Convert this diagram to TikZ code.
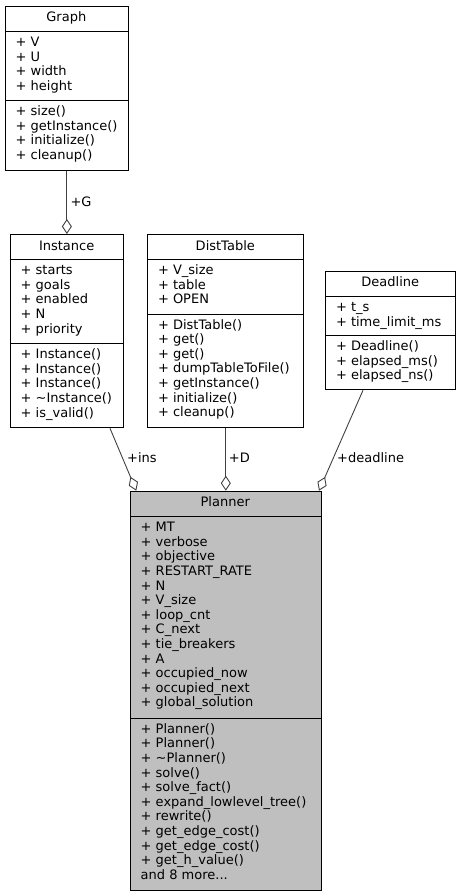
\documentclass[tikz,border=0pt]{standalone}
\usepackage{fontspec}
\setmainfont{DejaVu Sans}
\usetikzlibrary{arrows.meta,calc}
\definecolor{edgecol}{HTML}{404040}
\definecolor{focalfill}{HTML}{BFBFBF}
\newcommand\plannermoretext{and 8 more...}
\begin{document}
\begin{tikzpicture}[x=1pt,y=-1pt,
  classbox/.style={draw=black, line width=1pt, inner sep=0pt, anchor=north west},
  divline/.style={draw=black, line width=1pt},
  lbl/.style={font=\fontsize{13}{14.6}\selectfont, inner sep=0pt, anchor=base west},
  ttl/.style={font=\fontsize{13}{14.6}\selectfont, inner sep=0pt, anchor=base},
  agg/.style={draw=edgecol, line width=0.9pt, -{Diamond[open,length=15pt,width=10pt]}}]
\useasboundingbox (0,0) rectangle (463,896);

% Graph
\node[classbox, minimum width=122.7pt, minimum height=164.3pt] (graph) at (5,5.7) {};
\draw[divline] (5,31.7) -- (127.7,31.7);
\draw[divline] (5,100.7) -- (127.7,100.7);
\node[ttl] (graph-t) at (66.35,21.7) {Graph};
\foreach \s [count=\i] in {+ V,+ U,+ width,+ height}
  \node[lbl] (graph-a\i) at (15.5,{46.7+(\i-1)*14.6}) {\s};
\foreach \s [count=\i] in {+ size(),+ getInstance(),+ initialize(),+ cleanup()}
  \node[lbl] (graph-m\i) at (15.5,{115.7+(\i-1)*14.6}) {\s};

% Instance
\node[classbox, minimum width=113.3pt, minimum height=193.3pt] (instance) at (10,234) {};
\draw[divline] (10,259.7) -- (123.3,259.7);
\draw[divline] (10,343.7) -- (123.3,343.7);
\node[ttl] (instance-t) at (66.65,250) {Instance};
\foreach \s [count=\i] in {+ starts,+ goals,+ enabled,+ N,+ priority}
  \node[lbl] (instance-a\i) at (20.5,{274.7+(\i-1)*14.6}) {\s};
\foreach \s [count=\i] in {+ Instance(),+ Instance(),+ Instance(),+ \textasciitilde Instance(),+ is\_valid()}
  \node[lbl] (instance-m\i) at (20.5,{358.7+(\i-1)*14.6}) {\s};

% DistTable
\node[classbox, minimum width=156pt, minimum height=193pt] (dist) at (147.3,234) {};
\draw[divline] (147.3,259.7) -- (303.3,259.7);
\draw[divline] (147.3,314) -- (303.3,314);
\node[ttl] (dist-t) at (225.3,250) {DistTable};
\foreach \s [count=\i] in {+ V\_size,+ table,+ OPEN}
  \node[lbl] (dist-a\i) at (157.8,{274.7+(\i-1)*14.6}) {\s};
\foreach \s [count=\i] in {+ DistTable(),+ get(),+ get(),+ dumpTableToFile(),+ getInstance(),+ initialize(),+ cleanup()}
  \node[lbl] (dist-m\i) at (157.8,{329+(\i-1)*14.6}) {\s};

% Deadline
\node[classbox, minimum width=130pt, minimum height=118.6pt] (deadline) at (325.3,270.7) {};
\draw[divline] (325.3,296.7) -- (455.3,296.7);
\draw[divline] (325.3,335.7) -- (455.3,335.7);
\node[ttl] (deadline-t) at (390.3,286.7) {Deadline};
\foreach \s [count=\i] in {+ t\_s,+ time\_limit\_ms}
  \node[lbl] (deadline-a\i) at (335.8,{311.7+(\i-1)*14.6}) {\s};
\foreach \s [count=\i] in {+ Deadline(),+ elapsed\_ms(),+ elapsed\_ns()}
  \node[lbl] (deadline-m\i) at (335.8,{350.7+(\i-1)*14.6}) {\s};

% Planner
\node[classbox, fill=focalfill, minimum width=190.5pt, minimum height=399.3pt] (planner) at (130,490.7) {};
\draw[divline] (130,516.7) -- (320.5,516.7);
\draw[divline] (130,718.3) -- (320.5,718.3);
\node[ttl] (planner-t) at (225.25,506.7) {Planner};
\foreach \s [count=\i] in {+ MT,+ verbose,+ objective,+ RESTART\_RATE,+ N,+ V\_size,+ loop\_cnt,+ C\_next,+ tie\_breakers,+ A,+ occupied\_now,+ occupied\_next,+ global\_solution}
  \node[lbl] (planner-a\i) at (140.5,{531.7+(\i-1)*14.6}) {\s};
\foreach \s [count=\i] in {+ Planner(),+ Planner(),+ \textasciitilde Planner(),+ solve(),+ solve\_fact(),+ expand\_lowlevel\_tree(),+ rewrite(),+ get\_edge\_cost(),+ get\_edge\_cost(),+ get\_h\_value(),\plannermoretext}
  \node[lbl] (planner-m\i) at (140.5,{733.3+(\i-1)*14.6}) {\s};

% Connectors
\draw[agg] (graph.south) -- (graph.south |- instance.north);
\draw[agg] ([xshift=100pt]instance.south west) -- ([xshift=6.3pt]planner.north west);
\draw[agg] (dist.south) -- (dist.south |- planner.north);
\draw[agg] ([xshift=37.7pt]deadline.south west) -- ([xshift=-2.5pt]planner.north east);

% Connector labels
\node[lbl] (lab-g) at (70.4,206.5) {+G};
\node[lbl] (lab-ins) at (127,462.3) {+ins};
\node[lbl] (lab-d) at (228.7,462.3) {+D};
\node[lbl] (lab-deadline) at (337,462.3) {+deadline};
\end{tikzpicture}
\end{document}
